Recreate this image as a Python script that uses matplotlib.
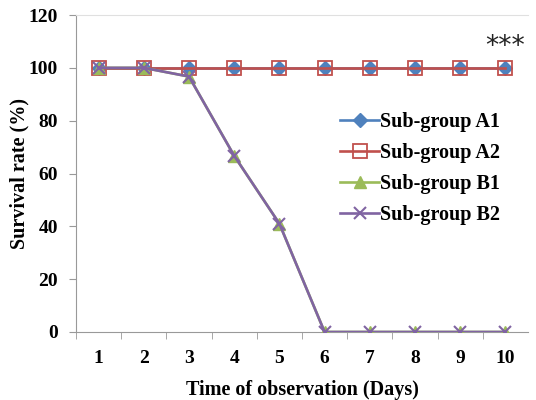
import matplotlib
matplotlib.use("Agg")
import matplotlib.pyplot as plt

days = [1, 2, 3, 4, 5, 6, 7, 8, 9, 10]
a1 = [100, 100, 100, 100, 100, 100, 100, 100, 100, 100]
a2 = [100, 100, 100, 100, 100, 100, 100, 100, 100, 100]
b1 = [100, 100, 96.7, 66.7, 41, 0, 0, 0, 0, 0]
b2 = [100, 100, 96.7, 66.7, 41, 0, 0, 0, 0, 0]
labels = ["Sub-group A1", "Sub-group A2", "Sub-group B1", "Sub-group B2"]

plt.rcParams['font.family'] = ['Liberation Serif', 'DejaVu Serif']
fig = plt.figure(figsize=(5.36, 4.0), dpi=100)
ax = fig.add_axes([76/536, 1-332/400, 452/536, 317/400])

lw = 1.9
ax.plot(days, a1, color='#4F81BD', lw=lw, marker='D', ms=7, mfc='#4F81BD', mec='#4F81BD', label=labels[0], zorder=3)
ax.plot(days, a2, color='#C0504D', lw=lw, marker='s', ms=10, mfc='none', mec='#C0504D', mew=1.3, label=labels[1], zorder=4)
ax.plot(days, b1, color='#9BBB59', lw=lw, marker='^', ms=9, mfc='#9BBB59', mec='#9BBB59', label=labels[2], zorder=5)
ax.plot(days, b2, color='#8064A2', lw=lw, marker='x', ms=9, mew=1.5, mec='#8064A2', label=labels[3], zorder=6)

ax.set_xlim(0.5, 10.5)
ax.set_ylim(0, 120)
ax.set_yticks([0, 20, 40, 60, 80, 100, 120])
ax.set_xticks(days)
ax.set_xticks([d + 0.5 for d in days[:-1]] + [0.5], minor=True)
ax.tick_params(axis='x', which='major', length=0, pad=13)
ax.tick_params(axis='x', which='minor', length=5, color='#999999', direction='out')
ax.tick_params(axis='y', length=5, color='#999999', direction='out', pad=8)
for lab in ax.get_xticklabels() + ax.get_yticklabels():
    lab.set_fontweight('bold')
    lab.set_fontsize(14)

ax.spines['right'].set_visible(False)
ax.spines['top'].set_color('#e0e0e0')
ax.spines['left'].set_color('#999999')
ax.spines['bottom'].set_color('#999999')

ax.set_xlabel('Time of observation (Days)', fontsize=14.5, fontweight='bold', labelpad=9)
ax.set_ylabel('Survival rate (%)', fontsize=14.5, fontweight='bold', va='center')
ax.yaxis.set_label_coords(-0.125, 0.5)

ax.text(10.0, 108, '***', fontsize=19, ha='center', va='center', color='#222222',
        family='DejaVu Sans')

leg = ax.legend(loc='center left', bbox_to_anchor=(0.585, 0.516), frameon=False,
                prop={'weight': 'bold', 'size': 14.5}, handlelength=1.9,
                handletextpad=0.05, labelspacing=0.55, borderpad=0, borderaxespad=0)

fig.savefig('out.png', dpi=100)
